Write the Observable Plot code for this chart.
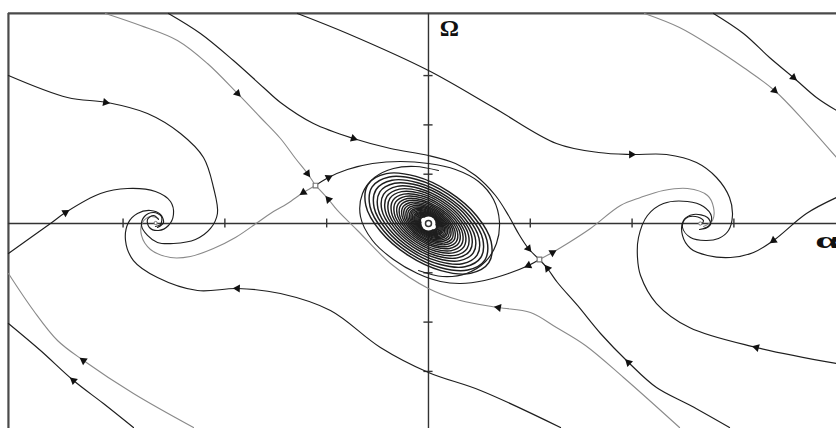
<!DOCTYPE html>
<html>
<head>
<meta charset="utf-8">
<script src="https://cdn.jsdelivr.net/npm/d3@7"></script>
<script src="https://cdn.jsdelivr.net/npm/@observablehq/plot@0.6"></script>
<style>
  html, body { margin: 0; padding: 0; background: #fff; }
  #chart svg { display: block; }
</style>
</head>
<body>
<div id="chart"></div>
<script>
// Phase portrait in the (α, Ω) plane: trajectories, saddles, foci and the central focus.

const alphaTicks = [-3, -2, -1, 1, 2, 3];
const omegaTicks = [-3, -2, -1, 1, 2, 3];

const saddlePoints = [[-1.11, 0.77], [1.09, -0.73]];
const sideFoci = [[-2.68, 0.01], [2.67, 0.0]];
const centralFocus = [[0, 0]];

// trajectories, as (α, Ω) pairs in order of travel
const trajUpperLeftToLeftFocus = [[-4.126, 3.002], [-3.546, 2.556], [-3.153, 2.454], [-2.760, 2.231], [-2.436, 1.826], [-2.210, 1.339], [-2.112, 0.730], [-2.073, 0.203], [-2.141, -0.101], [-2.289, -0.325], [-2.505, -0.406], [-2.662, -0.385], [-2.760, -0.243], [-2.819, -0.041], [-2.790, 0.142], [-2.701, 0.223], [-2.623, 0.142], [-2.633, -0.020], [-2.682, -0.061]];
const trajStableLeftSaddleTop = [[-3.173, 4.260], [-2.829, 4.016], [-2.466, 3.712], [-2.171, 3.245], [-1.876, 2.637], [-1.650, 2.150], [-1.454, 1.724], [-1.306, 1.318], [-1.189, 1.014], [-1.110, 0.771]];
const trajStableRightSaddleTop = [[-2.554, 4.260], [-2.240, 3.854], [-1.916, 3.306], [-1.621, 2.759], [-1.454, 2.454], [-1.130, 2.028], [-0.737, 1.724], [-0.373, 1.521], [0, 1.379], [0.265, 1.217], [0.462, 0.974], [0.658, 0.568], [0.786, 0.162], [0.884, -0.203], [0.982, -0.507], [1.090, -0.730]];
const trajTopToRightFocus = [[-1.287, 4.260], [-0.796, 3.854], [0, 3.103], [0.639, 2.353], [1.257, 1.623], [1.670, 1.440], [1.994, 1.400], [2.338, 1.400], [2.633, 1.237], [2.829, 0.933], [2.957, 0.527], [2.986, 0.162], [2.947, -0.142], [2.849, -0.304], [2.721, -0.345], [2.574, -0.284], [2.495, -0.081], [2.525, 0.101], [2.623, 0.142], [2.701, 0.061], [2.682, -0.020]];
const trajTopRightInner = [[2.122, 4.260], [2.466, 3.976], [2.800, 3.570], [3.094, 3.164], [3.399, 2.698], [3.713, 2.028], [4.008, 1.339]];
const trajTopRightOuter = [[2.800, 4.260], [3.094, 3.854], [3.350, 3.367], [3.585, 2.961], [3.811, 2.556], [4.008, 2.292]];
const trajRightEdgeToRightFocus = [[4.008, 0.527], [3.713, 0.203], [3.389, -0.345], [3.193, -0.588], [2.967, -0.690], [2.741, -0.649], [2.574, -0.507], [2.495, -0.243], [2.505, 0.061], [2.603, 0.183], [2.741, 0.122], [2.770, -0.020], [2.701, -0.101]];
const trajUnstableRightSaddleUp = [[1.090, -0.730], [1.218, -0.588], [1.365, -0.406], [1.591, -0.101], [1.886, 0.365], [2.083, 0.527], [2.308, 0.669], [2.544, 0.710], [2.741, 0.568], [2.800, 0.325], [2.790, 0.061], [2.701, -0.061]];
const trajLowerRightToRightFocus = [[4.008, -2.840], [3.222, -2.515], [2.564, -2.110], [2.240, -1.623], [2.083, -1.055], [2.053, -0.690], [2.063, -0.284], [2.151, 0.162], [2.308, 0.406], [2.544, 0.446], [2.701, 0.345], [2.780, 0.142], [2.751, -0.061], [2.662, -0.122]];
const trajLeftEdgeToLeftFocus = [[-4.126, -0.609], [-3.713, 0], [-3.566, 0.223], [-3.222, 0.609], [-2.957, 0.710], [-2.682, 0.649], [-2.534, 0.446], [-2.505, 0.183], [-2.554, -0.041], [-2.652, -0.142], [-2.741, -0.081], [-2.760, 0.081], [-2.701, 0.162], [-2.652, 0.081]];
const trajBottomToLeftFocus = [[1.297, -4.138], [0.511, -3.387], [0, -3.022], [-0.472, -2.515], [-0.963, -1.765], [-1.454, -1.420], [-1.876, -1.318], [-2.269, -1.359], [-2.662, -1.095], [-2.898, -0.751], [-2.976, -0.345], [-2.947, 0.020], [-2.859, 0.203], [-2.731, 0.264], [-2.633, 0.183], [-2.603, 0.020], [-2.662, -0.081]];
const trajUnstableLeftSaddleDown = [[-1.110, 0.771], [-1.228, 0.629], [-1.385, 0.406], [-1.552, 0.203], [-1.680, 0.020], [-1.896, -0.284], [-2.112, -0.507], [-2.338, -0.669], [-2.534, -0.690], [-2.731, -0.527], [-2.819, -0.243], [-2.809, 0.020], [-2.731, 0.142], [-2.652, 0.101]];
const trajStableRightSaddleBottom = [[2.957, -4.138], [2.574, -3.692], [2.240, -3.327], [1.965, -2.819], [1.690, -2.231], [1.464, -1.663], [1.267, -1.197], [1.169, -0.913], [1.090, -0.730]];
const trajStableLeftSaddleBottom = [[2.466, -4.138], [1.916, -3.124], [1.542, -2.475], [1.257, -2.110], [1.002, -1.805], [0.688, -1.704], [0.314, -1.562], [0, -1.318], [-0.373, -0.811], [-0.697, -0.142], [-0.894, 0.264], [-0.982, 0.487], [-1.110, 0.771]];
const trajLowerLeftInner = [[-4.126, -1.014], [-3.880, -1.765], [-3.644, -2.373], [-3.389, -2.779], [-2.898, -3.448], [-2.308, -4.138]];
const trajLowerLeftOuter = [[-4.126, -2.028], [-3.811, -2.576], [-3.487, -3.185], [-3.193, -3.651], [-2.898, -4.138]];
const trajUnstableLeftSaddleIn = [[-1.110, 0.771], [-0.982, 0.933], [-0.796, 1.095], [-0.550, 1.217], [-0.275, 1.258], [0, 1.217], [0.265, 1.095], [0.491, 0.852], [0.639, 0.487], [0.697, 0.041], [0.668, -0.406], [0.560, -0.771], [0.373, -1.014], [0.138, -1.075], [-0.098, -0.953]];
const trajUnstableRightSaddleIn = [[1.090, -0.730], [0.982, -0.852], [0.786, -1.014], [0.550, -1.156], [0.314, -1.217], [0.118, -1.176], [-0.108, -1.014], [-0.344, -0.730], [-0.550, -0.345], [-0.668, 0.142], [-0.648, 0.609], [-0.530, 0.933], [-0.344, 1.116], [-0.128, 1.156], [0.098, 1.075]];

// turns of the central spiral: one outline, and the relative size of each turn
const spiralTurnOutline = [[0.659, -0.884], [0.459, -1.124], [0.136, -1.061], [-0.225, -0.714], [-0.525, -0.176], [-0.684, 0.410], [-0.659, 0.884], [-0.459, 1.124], [-0.136, 1.061], [0.225, 0.714], [0.525, 0.176], [0.684, -0.410]];
const spiralTurnSizes = [0.90, 0.84, 0.78, 0.725, 0.67, 0.62, 0.575, 0.53, 0.49, 0.45, 0.415, 0.38, 0.35, 0.32, 0.295, 0.27, 0.25, 0.23, 0.21, 0.195, 0.18, 0.165, 0.15, 0.137, 0.125, 0.115];

// arrowheads: α, Ω, heading (degrees clockwise from up)
const arrowHeads = [
  [-3.173, 2.454, 100], [-1.876, 2.637, 136], [-1.189, 1.014, 143], [-0.737, 1.724, 108],
  [0.982, -0.507, 141], [1.994, 1.400, 90], [3.399, 2.698, 132], [3.585, 2.961, 130],
  [3.389, -0.345, 234], [1.218, -0.588, 60], [3.222, -2.515, 284], [-3.566, 0.223, 59],
  [-1.876, -1.318, 272], [-1.228, 0.629, 237], [1.965, -2.819, 314], [1.169, -0.913, 322],
  [0.688, -1.704, 280], [-0.982, 0.487, 319], [-3.389, -2.779, 305], [-3.487, -3.185, 310],
  [-0.982, 0.933, 63], [0.982, -0.852, 246]
];

// ---- drawing ----
const DARK = "#1e1e1e", GREY = "#8a8a8a";
const darkCurves = [
  trajUpperLeftToLeftFocus, trajStableRightSaddleTop, trajTopToRightFocus, trajTopRightOuter,
  trajRightEdgeToRightFocus, trajLowerRightToRightFocus, trajLeftEdgeToLeftFocus, trajBottomToLeftFocus,
  trajStableRightSaddleBottom, trajLowerLeftOuter, trajUnstableLeftSaddleIn, trajUnstableRightSaddleIn
];
const greyCurves = [
  trajStableLeftSaddleTop, trajTopRightInner, trajUnstableRightSaddleUp, trajUnstableLeftSaddleDown,
  trajStableLeftSaddleBottom, trajLowerLeftInner
];
const toRows = (list) => list.flatMap((pts, id) => pts.map(([a, o]) => ({a, o, id})));
const darkRows = toRows(darkCurves);
const greyRows = toRows(greyCurves);
const ringRows = spiralTurnSizes.flatMap((s, id) => spiralTurnOutline.map(([a, o]) => ({a: a * s, o: o * s, id})));

const xMin = -4.204, xMax = 4.008, yMin = -4.158, yMax = 4.523;
const frameLeft = -4.126, frameTop = 4.26;

const chart = Plot.plot({
  width: 836,
  height: 428,
  marginTop: 0, marginRight: 0, marginBottom: 0, marginLeft: 0,
  x: {domain: [xMin, xMax], axis: null},
  y: {domain: [yMin, yMax], axis: null},
  style: {background: "#fff"},
  marks: [
    // frame
    Plot.ruleY([frameTop], {x1: frameLeft, x2: xMax, stroke: "#4a4a4a", strokeWidth: 2.2}),
    Plot.ruleX([frameLeft], {y1: yMin, y2: frameTop, stroke: "#4a4a4a", strokeWidth: 2.2}),
    // axes through the origin
    Plot.ruleY([0], {x1: frameLeft, x2: xMax, stroke: "#333", strokeWidth: 1.4}),
    Plot.ruleX([0], {y1: yMin, y2: frameTop, stroke: "#333", strokeWidth: 1.4}),
    Plot.ruleX(alphaTicks, {x: d => d, y1: -0.09, y2: 0.09, stroke: "#333", strokeWidth: 1.4}),
    Plot.ruleY(omegaTicks, {y: d => d, x1: -0.045, x2: 0.045, stroke: "#333", strokeWidth: 1.4}),
    // trajectories
    Plot.line(greyRows, {x: "a", y: "o", z: "id", stroke: GREY, strokeWidth: 1.1, curve: "catmull-rom"}),
    Plot.line(darkRows, {x: "a", y: "o", z: "id", stroke: DARK, strokeWidth: 1.15, curve: "catmull-rom"}),
    Plot.line(ringRows, {x: "a", y: "o", z: "id", stroke: DARK, strokeWidth: 1.45, curve: "catmull-rom-closed"}),
    // arrowheads
    Plot.dot(arrowHeads, {x: d => d[0], y: d => d[1], rotate: d => d[2], symbol: "triangle", r: 3, fill: "#111", stroke: "none"}),
    // equilibria
    Plot.dot(centralFocus, {x: d => d[0], y: d => d[1], r: 7, fill: "#fff", stroke: "none"}),
    Plot.dot(centralFocus, {x: d => d[0], y: d => d[1], r: 3, fill: "#fff", stroke: "#333", strokeWidth: 1.5}),
    Plot.dot(saddlePoints, {x: d => d[0], y: d => d[1], symbol: "square", r: 2.6, fill: "#fff", stroke: "#777", strokeWidth: 1.2}),
    Plot.dot(sideFoci, {x: d => d[0], y: d => d[1], r: 1.6, fill: "#fff", stroke: "#777", strokeWidth: 1}),
    // axis names
    Plot.text(["Ω"], {x: 0.206, y: 3.813, text: d => d, lineAnchor: "bottom", textAnchor: "middle", fontSize: 24, fontWeight: "bold", fontFamily: "Liberation Serif", fill: "#111"}),
    Plot.text(["α"], {x: 3.80, y: -0.487, text: d => d, lineAnchor: "bottom", textAnchor: "start", fontSize: 24, fontWeight: "bold", fontFamily: "Liberation Serif", fill: "#111"})
  ]
});

// widen the α glyph
chart.querySelectorAll("text").forEach(t => {
  if (t.textContent === "α") {
    t.setAttribute("textLength", "24");
    t.setAttribute("lengthAdjust", "spacingAndGlyphs");
  }
});

document.getElementById("chart").append(chart);
</script>
</body>
</html>
